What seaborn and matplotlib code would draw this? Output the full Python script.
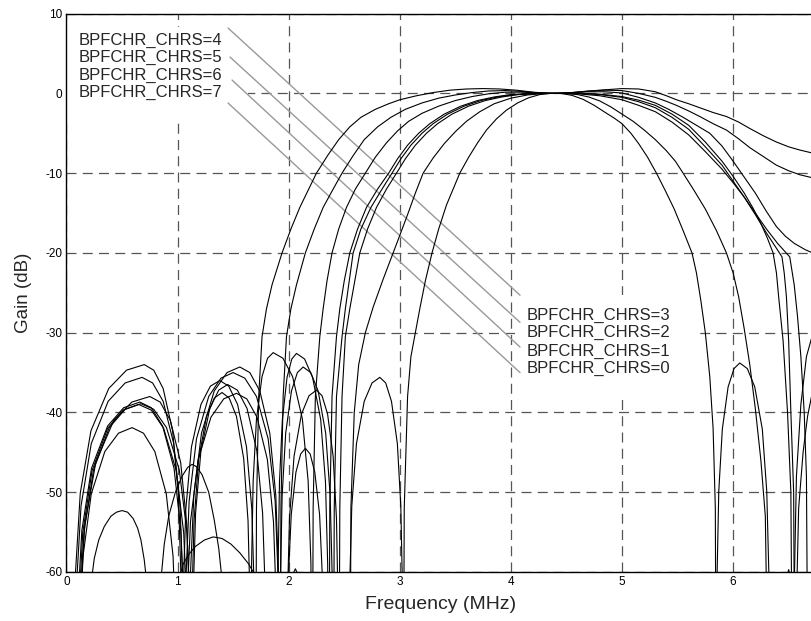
import numpy as np
import pandas as pd
import matplotlib.pyplot as plt
import matplotlib.patches as mpatches
import seaborn as sns

# gain curves, widest passband first (-90 = below the -60 floor)
freq_0 = [0.06, 0.079, 0.124, 0.22, 0.38, 0.54, 0.70, 0.785, 0.87, 0.955, 1.006, 1.030, 1.04,
          1.05, 1.074, 1.125, 1.21, 1.295, 1.38, 1.46, 1.54, 1.62, 1.668, 1.69, 1.70,
          1.71, 1.73, 1.76, 1.80, 1.85, 1.94, 2.02, 2.10, 2.18, 2.25, 2.35, 2.45, 2.55, 2.65, 2.78, 2.90,
          3.00, 3.15, 3.30, 3.45, 3.60, 3.75, 3.90, 4.05, 4.20, 4.35, 4.45, 4.60, 4.80, 5.00, 5.15, 5.30,
          5.40, 5.49, 5.60, 5.70, 5.82, 5.94, 6.05, 6.15, 6.27, 6.39, 6.50, 6.60, 6.72, 6.85]
gain_0 = [-90, -60.5, -50.1, -42.3, -37.0, -34.7, -34.0, -34.7, -37.0, -42.3, -50.1, -60.5, -90,
          -62.5, -52.1, -44.3, -39.0, -36.7, -36.0, -36.7, -39.0, -44.3, -52.1, -62.5, -90,
          -52, -38, -30.5, -27, -24, -20, -17, -14.3, -12, -10, -7.8, -5.8, -4.2, -3.0, -2.0, -1.3,
          -0.8, -0.3, 0.1, 0.4, 0.55, 0.6, 0.55, 0.4, 0.15, 0.0, 0.0, 0.15, 0.4, 0.6, 0.55, 0.2,
          -0.3, -0.8, -1.3, -1.8, -2.4, -2.9, -3.6, -4.4, -5.3, -6.1, -6.7, -7.1, -7.5, -7.8]

freq_1 = [0.07, 0.088, 0.131, 0.223, 0.375, 0.528, 0.68, 0.775, 0.87, 0.965, 1.022, 1.049, 1.06,
          1.073, 1.104, 1.17, 1.28, 1.39, 1.50, 1.605, 1.71, 1.815, 1.878, 1.907, 1.92,
          1.93, 1.95, 1.98, 2.02, 2.07, 2.15, 2.23, 2.31, 2.40, 2.48, 2.58, 2.68, 2.80, 2.92, 3.05, 3.20,
          3.35, 3.50, 3.65, 3.80, 3.95, 4.10, 4.25, 4.40, 4.55, 4.70, 4.85, 5.00, 5.15, 5.30, 5.40, 5.49,
          5.60, 5.70, 5.82, 5.94, 6.05, 6.15, 6.27, 6.39, 6.50, 6.60, 6.72, 6.85]
gain_1 = [-90, -62.1, -51.7, -43.9, -38.6, -36.3, -35.6, -36.3, -38.6, -43.9, -51.7, -62.1, -90,
          -61.5, -51.1, -43.3, -38.0, -35.7, -35.0, -35.7, -38.0, -43.3, -51.1, -61.5, -90,
          -52, -38, -30.5, -27, -24, -20, -17, -14.3, -12, -10, -7.8, -5.8, -4.2, -3.0, -2.0, -1.2,
          -0.6, -0.2, 0.1, 0.3, 0.35, 0.25, 0.05, 0.0, 0.1, 0.3, 0.4, 0.35, 0.0, -0.5, -1.0, -1.5,
          -2.2, -2.9, -3.8, -4.6, -5.7, -6.8, -7.9, -9.0, -9.7, -10.2, -10.6, -10.9]

freq_2 = [0.10, 0.12, 0.165, 0.263, 0.425, 0.588, 0.75, 0.843, 0.935, 1.028, 1.083, 1.109, 1.12,
          1.128, 1.148, 1.19, 1.26, 1.33, 1.40, 1.465, 1.53, 1.595, 1.634, 1.652, 1.66,
          1.666, 1.68, 1.71, 1.76, 1.81, 1.86, 1.948, 2.035, 2.123, 2.175, 2.20, 2.21,
          2.22, 2.24, 2.28, 2.31, 2.345, 2.39, 2.45, 2.52, 2.60, 2.69, 2.78, 2.88, 2.98, 3.08, 3.20, 3.35,
          3.50, 3.65, 3.80, 3.95, 4.10, 4.25, 4.40, 4.55, 4.70, 4.85, 5.00, 5.15, 5.30, 5.42, 5.55, 5.67,
          5.79, 5.90, 6.00, 6.10, 6.20, 6.30, 6.39, 6.47, 6.55, 6.65, 6.75, 6.85]
gain_2 = [-90, -64.5, -54.1, -46.3, -41.0, -38.7, -38.0, -38.7, -41.0, -46.3, -54.1, -64.5, -90,
          -64.0, -53.6, -45.8, -40.5, -38.2, -37.5, -38.2, -40.5, -45.8, -53.6, -64.0, -90,
          -59.0, -48.6, -40.8, -35.5, -33.2, -32.5, -33.2, -35.5, -40.8, -48.6, -59.0, -90,
          -52, -38, -30.5, -27, -23.5, -20, -17, -14.3, -12, -10, -8, -6.2, -4.7, -3.5, -2.5, -1.6,
          -0.9, -0.4, -0.05, 0.15, 0.15, 0.05, 0.0, 0.1, 0.2, 0.2, 0.05, -0.5, -1.2, -2.0, -3.0, -4.0,
          -5.0, -6.6, -8.5, -10.5, -12.5, -14.8, -16.7, -17.9, -18.8, -19.6, -20.2, -20.6]

freq_3 = [0.08, 0.097, 0.138, 0.225, 0.37, 0.515, 0.66, 0.763, 0.865, 0.968, 1.029, 1.058, 1.07,
          1.084, 1.116, 1.185, 1.30, 1.415, 1.53, 1.623, 1.715, 1.808, 1.863, 1.889, 1.90,
          1.905, 1.917, 1.943, 1.985, 2.028, 2.07, 2.143, 2.215, 2.288, 2.331, 2.351, 2.36,
          2.37, 2.39, 2.43, 2.46, 2.50, 2.55, 2.62, 2.70, 2.80, 2.90, 2.98, 3.07, 3.17, 3.27, 3.40, 3.55,
          3.70, 3.85, 4.00, 4.20, 4.40, 4.60, 4.80, 5.00, 5.15, 5.30, 5.45, 5.60, 5.75, 5.90, 6.00, 6.10,
          6.18, 6.25, 6.31, 6.36, 6.39, 6.41, 6.45, 6.49, 6.52, 6.54,
          6.55, 6.57, 6.61, 6.66, 6.72, 6.80]
gain_3 = [-90, -65.2, -54.8, -47.0, -41.7, -39.4, -38.7, -39.4, -41.7, -47.0, -54.8, -65.2, -90,
          -64.1, -53.7, -45.9, -40.6, -38.3, -37.6, -38.3, -40.6, -45.9, -53.7, -64.1, -90,
          -59.1, -48.7, -40.9, -35.6, -33.3, -32.6, -33.3, -35.6, -40.9, -48.7, -59.1, -90,
          -52, -38, -30.5, -27, -23.5, -20, -17, -14.3, -12, -10, -8.2, -6.5, -5.0, -3.8, -2.6, -1.6,
          -0.9, -0.45, -0.15, -0.02, 0.0, 0.02, -0.1, -0.4, -0.85, -1.5, -2.6, -4.0, -6.1, -8.5, -10.4, -12.5,
          -14.4, -16.3, -18.2, -20, -22.5, -25.5, -31, -40, -50, -90,
          -62, -48, -39, -33, -30, -27.5]

freq_4 = [0.09, 0.107, 0.146, 0.23, 0.37, 0.51, 0.65, 0.763, 0.875, 0.988, 1.055, 1.087, 1.10,
          1.114, 1.146, 1.215, 1.33, 1.445, 1.56, 1.65, 1.74, 1.83, 1.884, 1.909, 1.92,
          1.926, 1.941, 1.973, 2.025, 2.078, 2.13, 2.198, 2.265, 2.333, 2.373, 2.392, 2.40,
          2.41, 2.43, 2.48, 2.51, 2.545, 2.58, 2.65, 2.74, 2.84, 2.93, 3.01, 3.10, 3.20, 3.30, 3.43, 3.58,
          3.73, 3.88, 4.03, 4.20, 4.40, 4.60, 4.80, 5.00, 5.15, 5.30, 5.45, 5.60, 5.75, 5.90, 6.00, 6.10,
          6.20, 6.30, 6.38, 6.44, 6.46, 6.48, 6.50, 6.52, 6.545, 6.56,
          6.57, 6.59, 6.63, 6.67, 6.72, 6.80]
gain_4 = [-90, -65.5, -55.1, -47.3, -42.0, -39.7, -39.0, -39.7, -42.0, -47.3, -55.1, -65.5, -90,
          -60.8, -50.4, -42.6, -37.3, -35.0, -34.3, -35.0, -37.3, -42.6, -50.4, -60.8, -90,
          -60.8, -50.4, -42.6, -37.3, -35.0, -34.3, -35.0, -37.3, -42.6, -50.4, -60.8, -90,
          -52, -38, -30.5, -27, -23.5, -20, -17, -14.3, -12, -10, -8.2, -6.5, -5.0, -3.8, -2.6, -1.6,
          -0.9, -0.45, -0.15, -0.02, 0.0, 0.0, -0.15, -0.5, -1.05, -1.8, -3.0, -4.5, -6.7, -9.0, -11.0, -13.0,
          -15.2, -17.5, -19.2, -20.5, -22.5, -25.5, -31, -40, -50, -90,
          -64, -52, -45, -40.5, -37, -33.5]

freq_5 = [0.10, 0.117, 0.157, 0.243, 0.385, 0.528, 0.67, 0.785, 0.90, 1.015, 1.084, 1.116, 1.13,
          1.14, 1.162, 1.21, 1.29, 1.37, 1.45, 1.538, 1.625, 1.713, 1.765, 1.79, 1.80,
          1.98, 1.988, 2.007, 2.048, 2.115, 2.183, 2.25, 2.30, 2.35, 2.40, 2.43, 2.444, 2.45,
          2.46, 2.48, 2.51, 2.55, 2.595, 2.64, 2.71, 2.79, 2.88, 2.97, 3.05, 3.14, 3.24, 3.34, 3.47, 3.62,
          3.77, 3.92, 4.07, 4.23, 4.40, 4.60, 4.80, 5.00, 5.15, 5.30, 5.45, 5.60, 5.75, 5.90, 6.00, 6.10,
          6.20, 6.30, 6.40, 6.51, 6.55, 6.58, 6.61, 6.64, 6.66, 6.68, 6.85]
gain_5 = [-90, -65.4, -55.0, -47.2, -41.9, -39.6, -38.9, -39.6, -41.9, -47.2, -55.0, -65.4, -90,
          -63.0, -52.6, -44.8, -39.5, -37.2, -36.5, -37.2, -39.5, -44.8, -52.6, -63.0, -90,
          -90, -63.7, -53.3, -45.5, -40.2, -37.9, -37.2, -37.9, -40.2, -45.5, -53.3, -63.7, -90,
          -52, -38, -30.5, -27, -23.5, -20, -17, -14.3, -12, -10, -8.2, -6.5, -5.0, -3.8, -2.6, -1.6,
          -0.9, -0.45, -0.15, -0.02, 0.0, -0.05, -0.3, -0.8, -1.5, -2.3, -3.6, -5.2, -7.3, -9.5, -11.2, -13.0,
          -15.0, -17.0, -18.8, -20.5, -24, -28, -33, -40, -48, -90, -90]

freq_6 = [0.10, 0.115, 0.149, 0.223, 0.345, 0.468, 0.59, 0.693, 0.795, 0.898, 0.959, 0.988, 0.995,
          1.01, 1.05, 1.10, 1.16, 1.24, 1.32, 1.40, 1.48, 1.56, 1.64, 1.72, 1.75,
          1.98, 1.985, 1.997, 2.023, 2.065, 2.108, 2.15, 2.193, 2.235, 2.278, 2.303, 2.315, 2.32,
          2.55, 2.56, 2.59, 2.63, 2.69, 2.76, 2.85, 2.94, 3.00, 3.07, 3.14, 3.21, 3.30, 3.40, 3.50, 3.60,
          3.72, 3.85, 4.00, 4.15, 4.30, 4.40, 4.50, 4.60, 4.70, 4.80, 4.90, 5.00, 5.10, 5.20, 5.30, 5.40,
          5.48, 5.55, 5.65, 5.75, 5.85, 5.94, 6.00, 6.05, 6.10, 6.15, 6.20, 6.25, 6.29, 6.33, 6.85]
gain_6 = [-90, -68.4, -58.0, -50.2, -44.9, -42.6, -41.9, -42.6, -44.9, -50.2, -58.0, -68.4, -90,
          -61, -59, -57.8, -56.8, -56.0, -55.6, -55.8, -56.5, -57.6, -59.0, -61, -90,
          -90, -71, -60.6, -52.8, -47.5, -45.2, -44.5, -45.2, -47.5, -52.8, -60.6, -71, -90,
          -90, -52, -40, -34, -30, -26.8, -23.3, -20, -17.8, -15.2, -12.5, -10, -8.1, -6.3, -4.8, -3.5,
          -2.3, -1.3, -0.6, -0.2, -0.02, 0.0, -0.02, -0.15, -0.45, -0.95, -1.7, -2.6, -3.5, -4.6, -5.8, -7.2,
          -8.5, -10, -12.2, -14.5, -17.2, -20, -22.5, -25.5, -29.5, -34, -39.5, -46, -53, -90, -90]

freq_7 = [0.20, 0.225, 0.25, 0.29, 0.34, 0.40, 0.45, 0.50, 0.55, 0.60, 0.64, 0.67, 0.70, 0.72, 0.74,
          0.83, 0.85, 0.88, 0.92, 0.98, 1.04, 1.09, 1.13, 1.17, 1.22, 1.28, 1.33, 1.37, 1.40, 1.42,
          2.00, 2.03, 2.06, 2.09, 2.12,
          2.54, 2.548, 2.568, 2.61, 2.68, 2.75, 2.82, 2.873, 2.925, 2.978, 3.009, 3.024, 3.03,
          3.04, 3.07, 3.10, 3.14, 3.18, 3.23, 3.29, 3.35, 3.42, 3.48, 3.54, 3.62, 3.70, 3.78, 3.87, 3.96,
          4.06, 4.16, 4.26, 4.35, 4.45, 4.55, 4.65, 4.75, 4.85, 4.93, 5.00, 5.08, 5.15, 5.23, 5.31, 5.39,
          5.47, 5.55, 5.63, 5.67, 5.71, 5.75, 5.79, 5.82, 5.84, 5.85,
          5.856, 5.871, 5.903, 5.955, 6.008, 6.06, 6.128, 6.195, 6.263, 6.303, 6.322, 6.33,
          6.47, 6.50, 6.53, 6.56, 6.85]
gain_7 = [-90, -61, -58.3, -56.0, -54.3, -53.0, -52.5, -52.3, -52.5, -53.3, -54.5, -56.0, -58.5, -61, -90,
          -90, -61, -56.5, -53, -50, -48, -46.9, -46.5, -46.8, -47.8, -50, -53.5, -57, -61, -90,
          -90, -60.5, -59.6, -60.5, -90,
          -90, -62.1, -51.7, -43.9, -38.6, -36.3, -35.6, -36.3, -38.6, -43.9, -51.7, -62.1, -90,
          -52, -38, -33, -30, -27, -23.5, -20, -17, -14, -12, -10, -8, -6.2, -4.6, -3.2, -2.1,
          -1.2, -0.55, -0.15, -0.01, 0.0, -0.25, -0.75, -1.5, -2.4, -3.1, -3.8, -5.0, -6.3, -8.0, -10, -12.2,
          -14.5, -17.2, -20, -22.5, -26, -30, -35.5, -42, -52, -90,
          -60.3, -49.9, -42.1, -36.8, -34.5, -33.8, -34.5, -36.8, -42.1, -49.9, -60.3, -90,
          -61.5, -59.7, -61.5, -90, -90]

curves = [(freq_0, gain_0), (freq_1, gain_1), (freq_2, gain_2), (freq_3, gain_3),
          (freq_4, gain_4), (freq_5, gain_5), (freq_6, gain_6), (freq_7, gain_7)]

labels_upper = ["BPFCHR_CHRS=4", "BPFCHR_CHRS=5", "BPFCHR_CHRS=6", "BPFCHR_CHRS=7"]
labels_lower = ["BPFCHR_CHRS=3", "BPFCHR_CHRS=2", "BPFCHR_CHRS=1", "BPFCHR_CHRS=0"]
upper_y = [6.69, 4.49, 2.30, 0.10]
lower_y = [-27.8, -30.0, -32.3, -34.5]

# pointer lines (start -> end, data coords)
ptr_x0 = [1.454, 1.472, 1.490, 1.454]
ptr_y0 = [8.19, 4.55, 1.67, -1.21]
ptr_x1 = [4.082, 4.082, 4.082, 4.082]
ptr_y1 = [-25.3, -28.7, -31.8, -35.0]

sns.set_theme(style="white")
plt.rcParams['font.family'] = ['Liberation Sans', 'DejaVu Sans']
plt.rcParams['axes.unicode_minus'] = False

fig = plt.figure(figsize=(8.12, 6.21), dpi=100)
ax = fig.add_axes([66.5 / 812, 49 / 621, 888.8 / 812, 558.4 / 621])

for f, g in curves:
    sns.lineplot(x=f, y=g, ax=ax, color='black', lw=0.8, sort=False, estimator=None, zorder=3)

ax.set_xlim(0, 8)
ax.set_ylim(-60, 10)
ax.set_xticks(range(0, 7))
ax.set_yticks(range(-60, 11, 10))
ax.tick_params(direction='in', length=4, width=0.8, colors='black', labelsize=8.5, pad=3)
ax.grid(True, color='#555555', linestyle=(0, (8, 5)), linewidth=0.9)
ax.set_axisbelow(True)
for s in ax.spines.values():
    s.set_color('black')
    s.set_linewidth(1.0)

# white boxes behind the label groups
ax.add_patch(mpatches.Rectangle((0.0, -3.35), 1.634, 11.67, facecolor='white', edgecolor='none', zorder=1))
ax.add_patch(mpatches.Rectangle((4.036, -37.85), 1.64, 12.55, facecolor='white', edgecolor='none', zorder=1))

for x0, y0, x1, y1 in zip(ptr_x0, ptr_y0, ptr_x1, ptr_y1):
    ax.plot([x0, x1], [y0, y1], color='#999999', lw=1.0, zorder=2)

for lab, y in zip(labels_upper, upper_y):
    ax.text(0.11, y, lab, fontsize=12, va='center', ha='left', zorder=4)
for lab, y in zip(labels_lower, lower_y):
    ax.text(4.145, y, lab, fontsize=12, va='center', ha='left', zorder=4)

ax.set_xlabel('Frequency (MHz)', fontsize=14)
ax.set_ylabel('Gain (dB)', fontsize=13.5)
ax.xaxis.set_label_coords(0.421, -0.043)
ax.yaxis.set_label_coords(-0.039, 0.5)

fig.savefig('out.png', dpi=100)
